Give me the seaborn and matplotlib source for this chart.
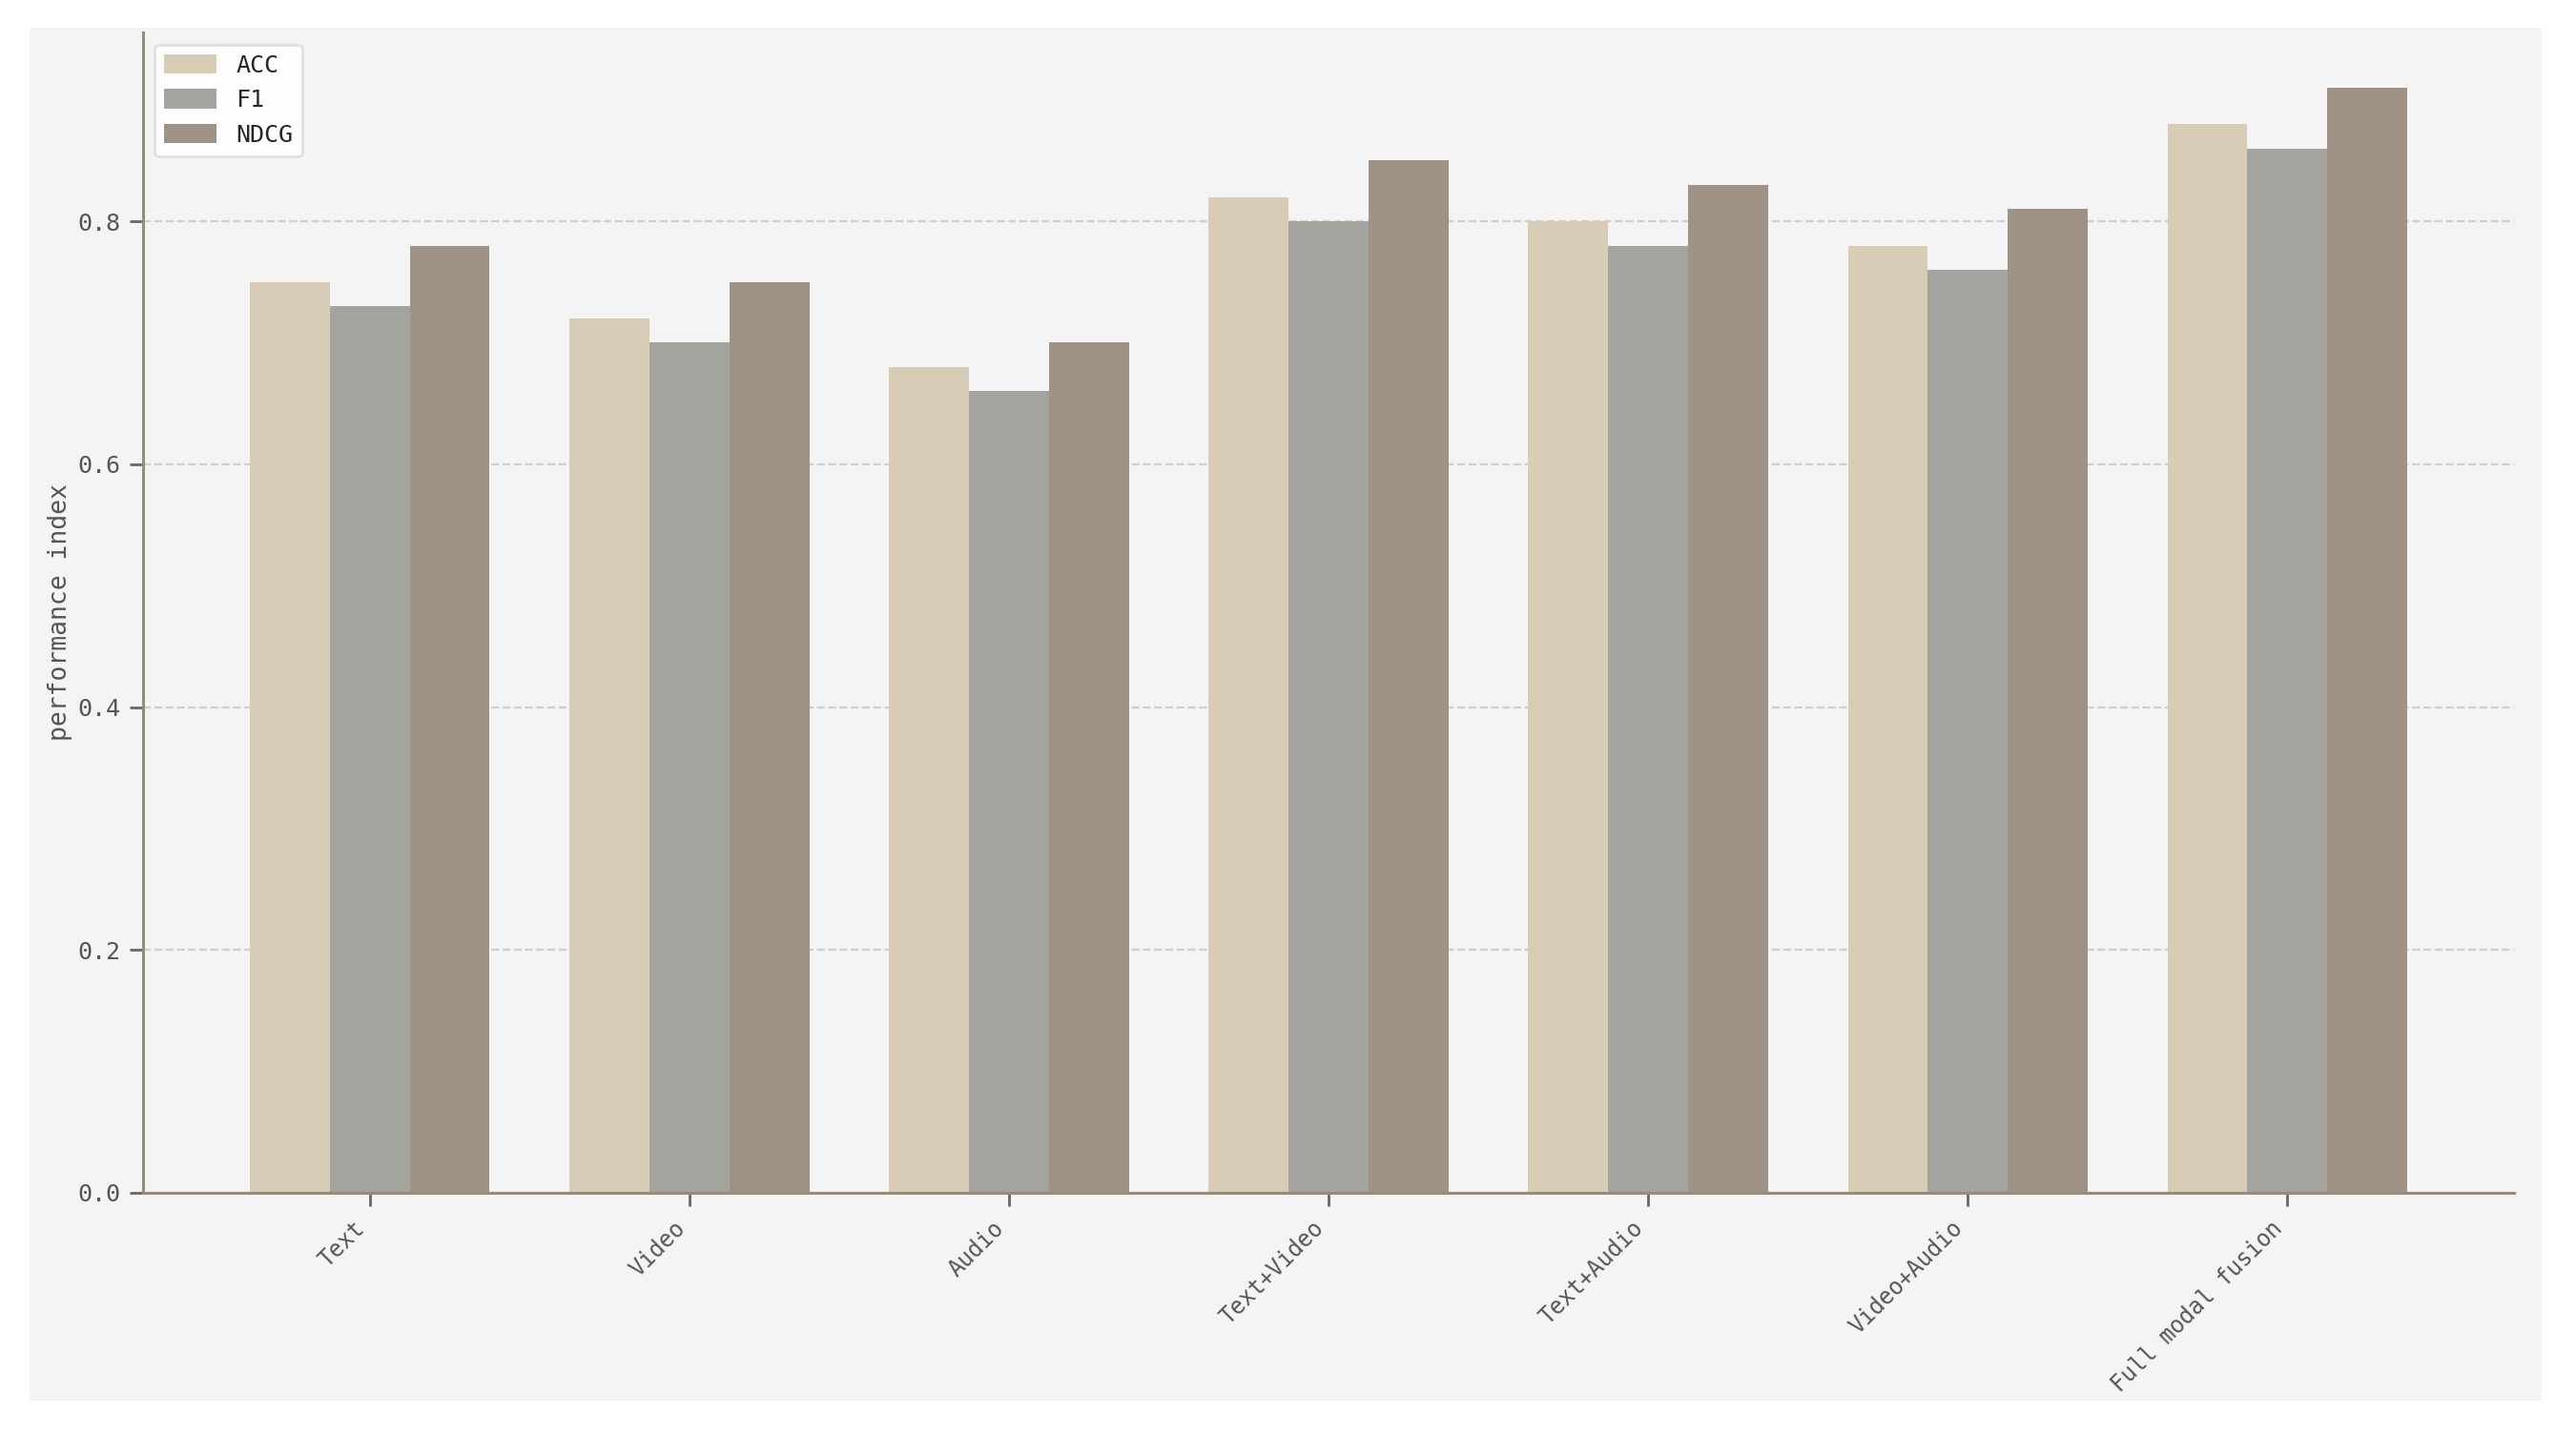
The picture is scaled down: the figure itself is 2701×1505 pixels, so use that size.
import pandas as pd
import matplotlib.pyplot as plt
import seaborn as sns
from matplotlib.patches import Rectangle

# Data
modalities = ["Text", "Video", "Audio", "Text+Video", "Text+Audio",
              "Video+Audio", "Full modal fusion"]
acc = [0.75, 0.72, 0.68, 0.82, 0.80, 0.78, 0.88]
f1 = [0.73, 0.70, 0.66, 0.80, 0.78, 0.76, 0.86]
ndcg = [0.78, 0.75, 0.70, 0.85, 0.83, 0.81, 0.91]
metrics = ["ACC", "F1", "NDCG"]
colors = ["#d8ccb6", "#a4a49e", "#a09385"]

df = pd.DataFrame({"modality": modalities, "ACC": acc, "F1": f1, "NDCG": ndcg})
long_df = df.melt(id_vars="modality", var_name="metric", value_name="score")

sns.set_style("white")
plt.rcParams['font.family'] = ['DejaVu Sans Mono', 'DejaVu Sans']

fig = plt.figure(figsize=(2701 / 200, 1505 / 200), dpi=200, facecolor="white")
# light grey panel behind the plot
bg = Rectangle((0.0115, 0.0239), 0.975, 0.9568, transform=fig.transFigure,
               facecolor="#f4f4f4", edgecolor="none", zorder=-10)
fig.patches.append(bg)
ax = fig.add_axes([0.0555, 0.1688, 0.9205, 0.8086])
ax.set_facecolor("#f4f4f4")

sns.barplot(data=long_df, x="modality", y="score", hue="metric", hue_order=metrics,
            palette=colors, width=0.75, saturation=1, gap=0, edgecolor="none",
            linewidth=0, ax=ax, zorder=2)

ax.set_xlim(-0.71, 6.71)
ax.set_ylim(0, max(ndcg) * 1.05)
ax.set_yticks([0.0, 0.2, 0.4, 0.6, 0.8])
ax.set_yticklabels(["0.0", "0.2", "0.4", "0.6", "0.8"])
ax.set_xlabel("")
ax.set_ylabel("performance index", fontsize=9.5, color="#555555", labelpad=2)

ax.tick_params(axis="both", labelcolor="#555555", color="#666666",
               length=5, width=1, direction="out", bottom=True, left=True)
ax.tick_params(axis="y", labelsize=9)
ax.tick_params(axis="x", labelsize=8.5, pad=4)
plt.setp(ax.get_xticklabels(), rotation=45, ha="right")

ax.yaxis.grid(True, linestyle="--", color="#cfcfcf", linewidth=0.8, zorder=0)
ax.set_axisbelow(True)

for side in ["top", "right"]:
    ax.spines[side].set_visible(False)
for side in ["left", "bottom"]:
    ax.spines[side].set_color("#9a8a7c")
    ax.spines[side].set_linewidth(1.1)

leg = ax.legend(loc="upper left", fontsize=9, frameon=True, fancybox=True,
                handlelength=2.2, handleheight=0.9, labelspacing=0.5)
leg.get_frame().set_facecolor("white")
leg.get_frame().set_edgecolor("#dddddd")
leg.get_frame().set_alpha(0.9)

fig.savefig("out.png", dpi=200, facecolor="white")
